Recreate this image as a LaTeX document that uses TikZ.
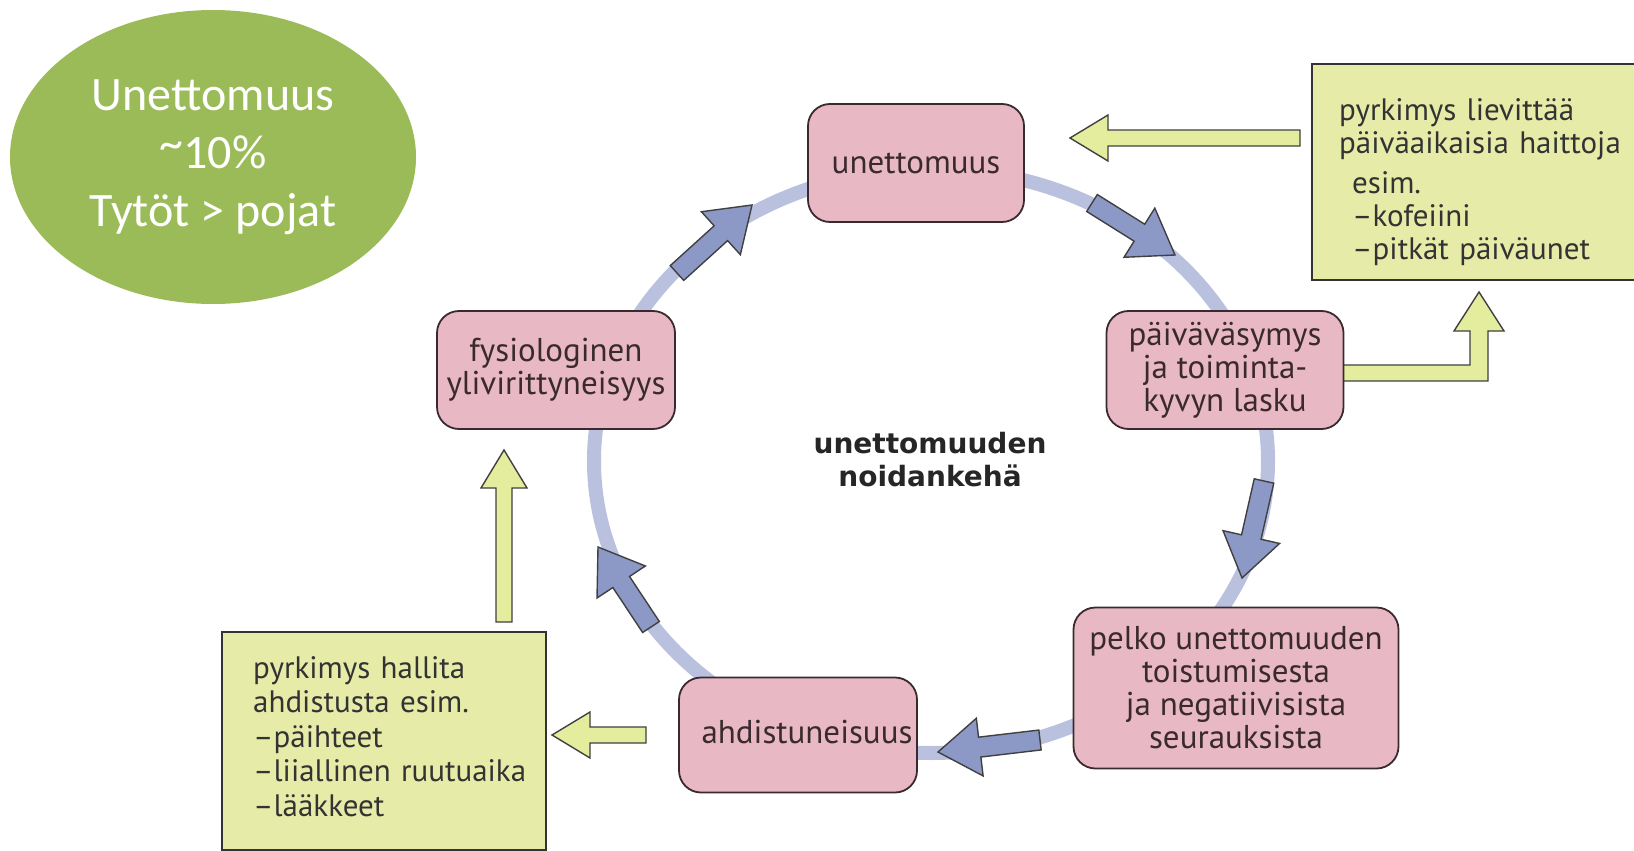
\documentclass[tikz,border=0pt]{standalone}
\usepackage{fontspec}
\setmainfont{PT Sans}
\newfontfamily\calibri{Carlito}
\newfontfamily\heavy{DejaVu Sans}
\usetikzlibrary{calc,shapes.geometric}
\definecolor{ringblue}{HTML}{B9C1DF}
\definecolor{arrblue}{HTML}{8C99C7}
\definecolor{boxpink}{HTML}{E8B9C4}
\definecolor{boxyel}{HTML}{E6ECA8}
\definecolor{arryel}{HTML}{E4EC9E}
\definecolor{ovgreen}{HTML}{9BBB59}
\definecolor{inkdark}{HTML}{3A2A30}
\tikzset{
  pbox/.style={draw=inkdark,line width=1.8pt,rounded corners=22pt,fill=boxpink,text=inkdark,align=center,inner sep=0pt,font=\fontsize{33}{33}\selectfont},
  ybox/.style={draw=black!80,line width=1.6pt,fill=boxyel,inner sep=0pt,anchor=north west},
  ytxt/.style={text=black!80,align=left,anchor=base west,inner sep=0pt,text width=420pt},
  barr/.style={draw=black!75,line width=1.4pt,fill=arrblue},
  yarr/.style={draw=black!75,line width=1.4pt,fill=arryel},
  ring/.style={ringblue,line width=14pt}
}
% block arrow: style, tail, tip, half shaft, half head, head length
\newcommand{\blockarr}[6]{
  \coordinate (#2h) at ($(#3)!#6!(#2)$);
  \draw[#1] ($(#2)!#4!90:(#3)$) -- ($(#2h)!#4!90:(#3)$) -- ($(#2h)!#5!90:(#3)$) -- (#3)
    -- ($(#2h)!#5!-90:(#3)$) -- ($(#2h)!#4!-90:(#3)$) -- ($(#2)!#4!-90:(#3)$) -- cycle;
}

\begin{document}
\begin{tikzpicture}[x=1pt,y=-1pt]
\path[use as bounding box,clip] (0,0) rectangle (1634,851);

% the vicious circle
\draw[ring] (931,461) ellipse [x radius=337pt,y radius=292pt];

\node (stat) [ellipse,fill=ovgreen,minimum width=406pt,minimum height=294pt,inner sep=0pt,text=white,align=center,font=\calibri\fontsize{48}{58}\selectfont] at (213,157) {Unettomuus\\\raisebox{9pt}{\textasciitilde}10\%\\Tytöt > pojat};

\node (cyc) [text=black!85,align=center,font=\heavy\bfseries\fontsize{28}{33}\selectfont] at (930,460) {unettomuuden\\noidankehä};

% yellow boxes
\node (kofebox) [ybox,minimum width=340pt,minimum height=216pt] at (1311,63) {};
\node (kofetxt) [ytxt,font=\fontsize{31}{33}\selectfont] at (1339,121) {pyrkimys lievittää\\päiväaikaisia haittoja\\[7pt]
  \hspace*{13pt}esim.\\\hspace*{13pt}–kofeiini\\\hspace*{13pt}–pitkät päiväunet};
\node (ahdbox) [ybox,minimum width=324pt,minimum height=218pt] at (221,631) {};
\node (ahdtxt) [ytxt,font=\fontsize{31}{34.5}\selectfont] at (253,678) {pyrkimys hallita\\ahdistusta esim.\\–päihteet\\–liiallinen ruutuaika\\–lääkkeet};

% yellow arrows
\coordinate (y1) at (1300,138); \coordinate (y1t) at (1070,138);
\coordinate (y2) at (504,622);  \coordinate (y2t) at (504,450);
\coordinate (y3) at (646,735);  \coordinate (y3t) at (552,735);
\blockarr{yarr}{y1}{y1t}{8pt}{23pt}{38pt}
\blockarr{yarr}{y2}{y2t}{8pt}{23pt}{38pt}
\blockarr{yarr}{y3}{y3t}{8pt}{23pt}{38pt}
\draw[yarr] (1330,365) -- (1470,365) -- (1470,331) -- (1454,331) -- (1479,292) -- (1504,331)
  -- (1488,331) -- (1488,381) -- (1330,381) -- cycle;

% pink boxes
\node (unet) [pbox,minimum width=216pt,minimum height=118pt] at (916,163) {unettomuus};
\node (paiva) [pbox,minimum width=237pt,minimum height=118pt] at (1225,370) {päiväväsymys\\ja toiminta-\\kyvyn lasku};
\node (pelko) [pbox,minimum width=325pt,minimum height=161pt] at (1236,688) {pelko unettomuuden\\toistumisesta\\ja negatiivisista\\seurauksista};
\node (ahd) [pbox,minimum width=238pt,minimum height=115pt] at (798,735) {\hspace*{18pt}\raisebox{6pt}{ahdistuneisuus}};
\node (fysio) [pbox,minimum width=238pt,minimum height=118pt] at (556,370) {fysiologinen\\ylivirittyneisyys};

% blue arrows on the ring
\coordinate (b1) at (1092,203); \coordinate (b1t) at (1175,255);
\coordinate (b2) at (1264,481); \coordinate (b2t) at (1242,578);
\coordinate (b3) at (1040,740); \coordinate (b3t) at (938,752);
\coordinate (b4) at (651,627);  \coordinate (b4t) at (598,547);
\coordinate (b5) at (677,273);  \coordinate (b5t) at (752,205);
\blockarr{barr}{b1}{b1t}{10pt}{29pt}{42pt}
\blockarr{barr}{b2}{b2t}{10pt}{29pt}{42pt}
\blockarr{barr}{b3}{b3t}{10pt}{29pt}{42pt}
\blockarr{barr}{b4}{b4t}{10pt}{29pt}{42pt}
\blockarr{barr}{b5}{b5t}{10pt}{29pt}{42pt}
\end{tikzpicture}
\end{document}
